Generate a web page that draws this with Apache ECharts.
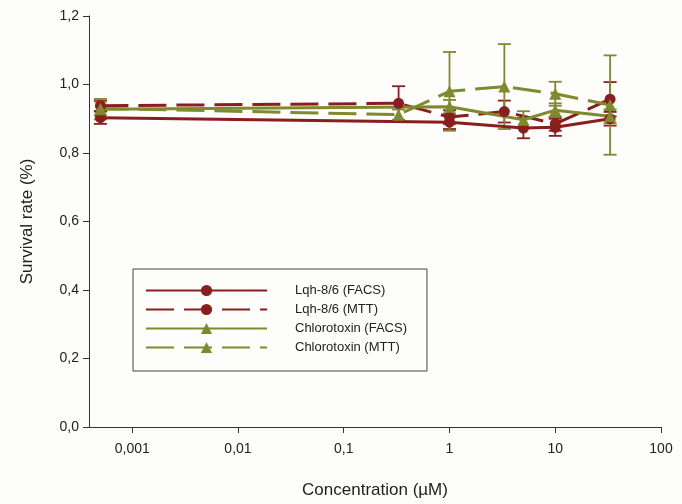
<!DOCTYPE html>
<html>
<head>
<meta charset="utf-8">
<script src="https://cdn.jsdelivr.net/npm/echarts@6/dist/echarts.min.js"></script>
<style>
html,body{margin:0;padding:0;background:#fdfdfb;}
#chart{width:682px;height:504px;}
</style>
</head>
<body>
<div id="chart"></div>
<script>
// ---- data ----
var xTickValues = [0.001, 0.01, 0.1, 1, 10, 100];
var xTickLabels = ['0,001', '0,01', '0,1', '1', '10', '100'];
var yTickLabels = ['0,0', '0,2', '0,4', '0,6', '0,8', '1,0', '1,2'];

var seriesNames = ['Lqh-8/6 (FACS)', 'Lqh-8/6 (MTT)', 'Chlorotoxin (FACS)', 'Chlorotoxin (MTT)'];

var lqhFacsConc = [0.0005, 1, 5, 10, 33];
var lqhFacsVal  = [0.903, 0.890, 0.873, 0.875, 0.900];
var lqhFacsErr  = [0.018, 0.020, 0.030, 0.025, 0.020];

var lqhMttConc = [0.0005, 0.33, 1, 3.3, 10, 33];
var lqhMttVal  = [0.938, 0.945, 0.905, 0.921, 0.885, 0.957];
var lqhMttErr  = [0.015, 0.050, 0.020, 0.032, 0.020, 0.050];

var ctxFacsConc = [0.0005, 1, 5, 10, 33];
var ctxFacsVal  = [0.928, 0.935, 0.897, 0.925, 0.907];
var ctxFacsErr  = [0.030, 0.020, 0.025, 0.020, 0.020];

var ctxMttConc = [0.0005, 0.33, 1, 3.3, 10, 33];
var ctxMttVal  = [0.930, 0.912, 0.980, 0.994, 0.973, 0.940];
var ctxMttErr  = [0.020, 0.015, 0.115, 0.124, 0.035, 0.145];

// ---- styles ----
var RED = '#8a1e1e';
var GREEN = '#7e8a2c';
var FONT = '"Liberation Sans", Arial, sans-serif';
var DASH = [28, 10];

function pts(c, v) { return c.map(function (x, i) { return [x, v[i]]; }); }
function errPts(c, v, e) { return c.map(function (x, i) { return [x, v[i], e[i]]; }); }

function errSeries(name, c, v, e, color) {
  return {
    name: name + ' err',
    type: 'custom',
    data: errPts(c, v, e),
    silent: true,
    renderItem: function (params, api) {
      var x = api.value(0), y = api.value(1), er = api.value(2);
      var top = api.coord([x, y + er]);
      var bot = api.coord([x, y - er]);
      var hw = 6.5;
      var st = { stroke: color, lineWidth: 1.8 };
      return {
        type: 'group',
        children: [
          { type: 'line', shape: { x1: top[0], y1: top[1], x2: bot[0], y2: bot[1] }, style: st },
          { type: 'line', shape: { x1: top[0] - hw, y1: top[1], x2: top[0] + hw, y2: top[1] }, style: st },
          { type: 'line', shape: { x1: bot[0] - hw, y1: bot[1], x2: bot[0] + hw, y2: bot[1] }, style: st }
        ]
      };
    }
  };
}

function lineSeries(name, c, v, color, symbol, dashed) {
  return {
    name: name,
    type: 'line',
    data: pts(c, v),
    symbol: symbol,
    symbolSize: symbol === 'circle' ? 11 : 12,
    color: color,
    itemStyle: { color: color },
    lineStyle: { color: color, width: 3, type: dashed ? DASH : 'solid' },
    clip: false
  };
}

var chart = echarts.init(document.getElementById('chart'));
chart.setOption({
  backgroundColor: '#fdfdfb',
  animation: false,
  textStyle: { fontFamily: FONT },
  grid: { left: 89, right: 21, top: 16, bottom: 76 },
  xAxis: {
    type: 'log',
    logBase: 10,
    min: 0.00039,
    max: 100,
    name: 'Concentration (\u00b5M)',
    nameLocation: 'middle',
    nameGap: 55,
    nameTextStyle: { fontSize: 17, color: '#222', fontFamily: FONT },
    axisLine: { lineStyle: { color: '#333', width: 1 } },
    axisTick: { length: 6, lineStyle: { color: '#333' }, customValues: xTickValues },
    axisLabel: {
      fontSize: 14, color: '#222', margin: 15, fontFamily: FONT,
      customValues: xTickValues,
      formatter: function (v) {
        for (var i = 0; i < xTickValues.length; i++) {
          if (Math.abs(Math.log10(v) - Math.log10(xTickValues[i])) < 1e-6) return xTickLabels[i];
        }
        return '';
      }
    },
    splitLine: { show: false },
    minorTick: { show: false }
  },
  yAxis: {
    type: 'value',
    min: 0,
    max: 1.2,
    interval: 0.2,
    name: 'Survival rate (%)',
    nameLocation: 'middle',
    nameGap: 53,
    nameTextStyle: { fontSize: 17, color: '#222', fontFamily: FONT },
    axisLine: { show: true, lineStyle: { color: '#333', width: 1 } },
    axisTick: { show: true, length: 6, lineStyle: { color: '#333' } },
    axisLabel: {
      fontSize: 14, color: '#222', margin: 10, fontFamily: FONT,
      formatter: function (v) { return yTickLabels[Math.round(v / 0.2)]; }
    },
    splitLine: { show: false }
  },
  legend: {
    data: seriesNames,
    orient: 'vertical',
    left: 133,
    top: 269,
    itemWidth: 121,
    itemHeight: 14,
    itemGap: 6,
    padding: [15, 20, 17, 12],
    borderColor: '#444',
    borderWidth: 1,
    textStyle: { fontSize: 13, color: '#222', fontFamily: FONT, padding: [0, 0, 0, 23] }
  },
  series: [
    errSeries(seriesNames[0], lqhFacsConc, lqhFacsVal, lqhFacsErr, RED),
    lineSeries(seriesNames[0], lqhFacsConc, lqhFacsVal, RED, 'circle', false),
    errSeries(seriesNames[1], lqhMttConc, lqhMttVal, lqhMttErr, RED),
    lineSeries(seriesNames[1], lqhMttConc, lqhMttVal, RED, 'circle', true),
    errSeries(seriesNames[2], ctxFacsConc, ctxFacsVal, ctxFacsErr, GREEN),
    lineSeries(seriesNames[2], ctxFacsConc, ctxFacsVal, GREEN, 'triangle', false),
    errSeries(seriesNames[3], ctxMttConc, ctxMttVal, ctxMttErr, GREEN),
    lineSeries(seriesNames[3], ctxMttConc, ctxMttVal, GREEN, 'triangle', true)
  ]
});
</script>
</body>
</html>
